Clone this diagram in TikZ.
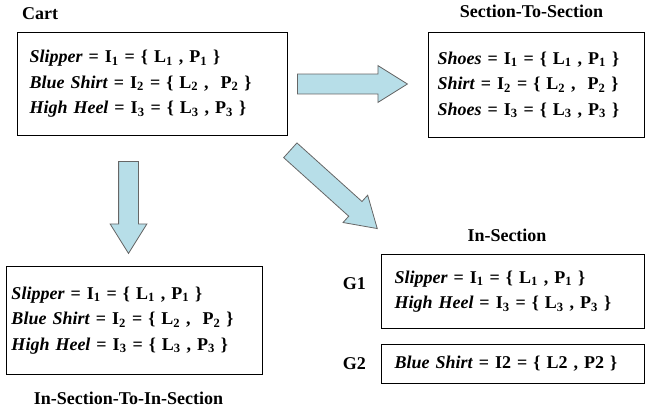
\documentclass[tikz,border=0pt]{standalone}
\usepackage{fontspec}
\setmainfont{Liberation Serif}
\usepackage{xcolor}
\usetikzlibrary{positioning,shapes.arrows}
\definecolor{arrowfill}{RGB}{183,222,232}
\newcommand{\idx}[1]{\textsubscript{#1}}

\begin{document}
\begin{tikzpicture}[
  font=\bfseries\fontsize{18}{25.5}\selectfont, node distance=10pt,
  ibox/.style={draw, line width=1pt, align=left, inner ysep=0pt},
  ttl/.style={font=\bfseries\fontsize{18}{20}\selectfont, inner sep=0pt},
  fatarrow/.style={single arrow, draw=black!60, fill=arrowfill, line width=0.8pt,
    inner xsep=0pt, inner ysep=9.5pt, minimum width=36pt,
    single arrow head extend=8.5pt, single arrow tip angle=64}]
\useasboundingbox (0,0) rectangle (645pt,-412pt);
% cart and section-to-section
\node[ibox, anchor=north west, inner xsep=12pt, text width=246pt,
      minimum height=103pt] (cart) at (17pt,-32pt)
  {\textit{Slipper} = I\idx{1} = \{ L\idx{1} , P\idx{1} \}\\
   \textit{Blue Shirt} = I\idx{2} = \{ L\idx{2} , \ P\idx{2} \}\\
   \textit{High Heel} = I\idx{3} = \{ L\idx{3} , P\idx{3} \}};
\node[ibox, right=140pt of cart.north east, anchor=north west, inner xsep=9pt,
      text width=198pt, minimum height=105pt] (sec)
  {\textit{Shoes} = I\idx{1} = \{ L\idx{1} , P\idx{1} \}\\
   \textit{Shirt} = I\idx{2} = \{ L\idx{2} , \ P\idx{2} \}\\
   \textit{Shoes} = I\idx{3} = \{ L\idx{3} , P\idx{3} \}};
% in-section-to-in-section
\node[ibox, below=130pt of cart.south west, anchor=north west, xshift=-11pt,
      inner xsep=5pt, text width=246pt, minimum height=108pt] (isis)
  {\textit{Slipper} = I\idx{1} = \{ L\idx{1} , P\idx{1} \}\\
   \textit{Blue Shirt} = I\idx{2} = \{ L\idx{2} , \ P\idx{2} \}\\
   \textit{High Heel} = I\idx{3} = \{ L\idx{3} , P\idx{3} \}};
% in-section groups
\node[ibox, below=116pt of sec.south east, anchor=north east, inner xsep=13pt,
      text width=237pt, minimum height=74pt] (g1)
  {\textit{Slipper} = I\idx{1} = \{ L\idx{1} , P\idx{1} \}\\
   \textit{High Heel} = I\idx{3} = \{ L\idx{3} , P\idx{3} \}};
\node[ibox, below=15pt of g1.south east, anchor=north east, inner xsep=13pt,
      text width=237pt, minimum height=39pt] (g2)
  {\textit{Blue Shirt} = I2 = \{ L2 , P2 \}};
% titles
\node[ttl, above right=12pt and 5pt of cart.north west, anchor=base west] (tcart) {Cart};
\node[ttl, above=14pt of sec.north, anchor=base, xshift=-5pt] (tsec) {Section-To-Section};
\node[ttl, below=29pt of isis.south, anchor=base, xshift=-6pt] (tisis) {In-Section-To-In-Section};
\node[ttl, above=13pt of g1.north, anchor=base, xshift=-6pt] (tin) {In-Section};
\node[ttl, left=15pt of g1.west, yshift=8pt] (lg1) {G1};
\node[ttl, left=15pt of g2.west] (lg2) {G2};
% block arrows
\node[fatarrow, right=9pt of cart, anchor=tail, minimum height=110pt] (asec) {};
\node[fatarrow, below=25pt of cart.south, xshift=-24pt, anchor=tail, rotate=-90,
      minimum height=92pt] (aisis) {};
\node[fatarrow, below right=14pt and 2pt of cart.south east, anchor=tail, rotate=-42,
      minimum height=117pt] (ain) {};
\end{tikzpicture}
\end{document}
